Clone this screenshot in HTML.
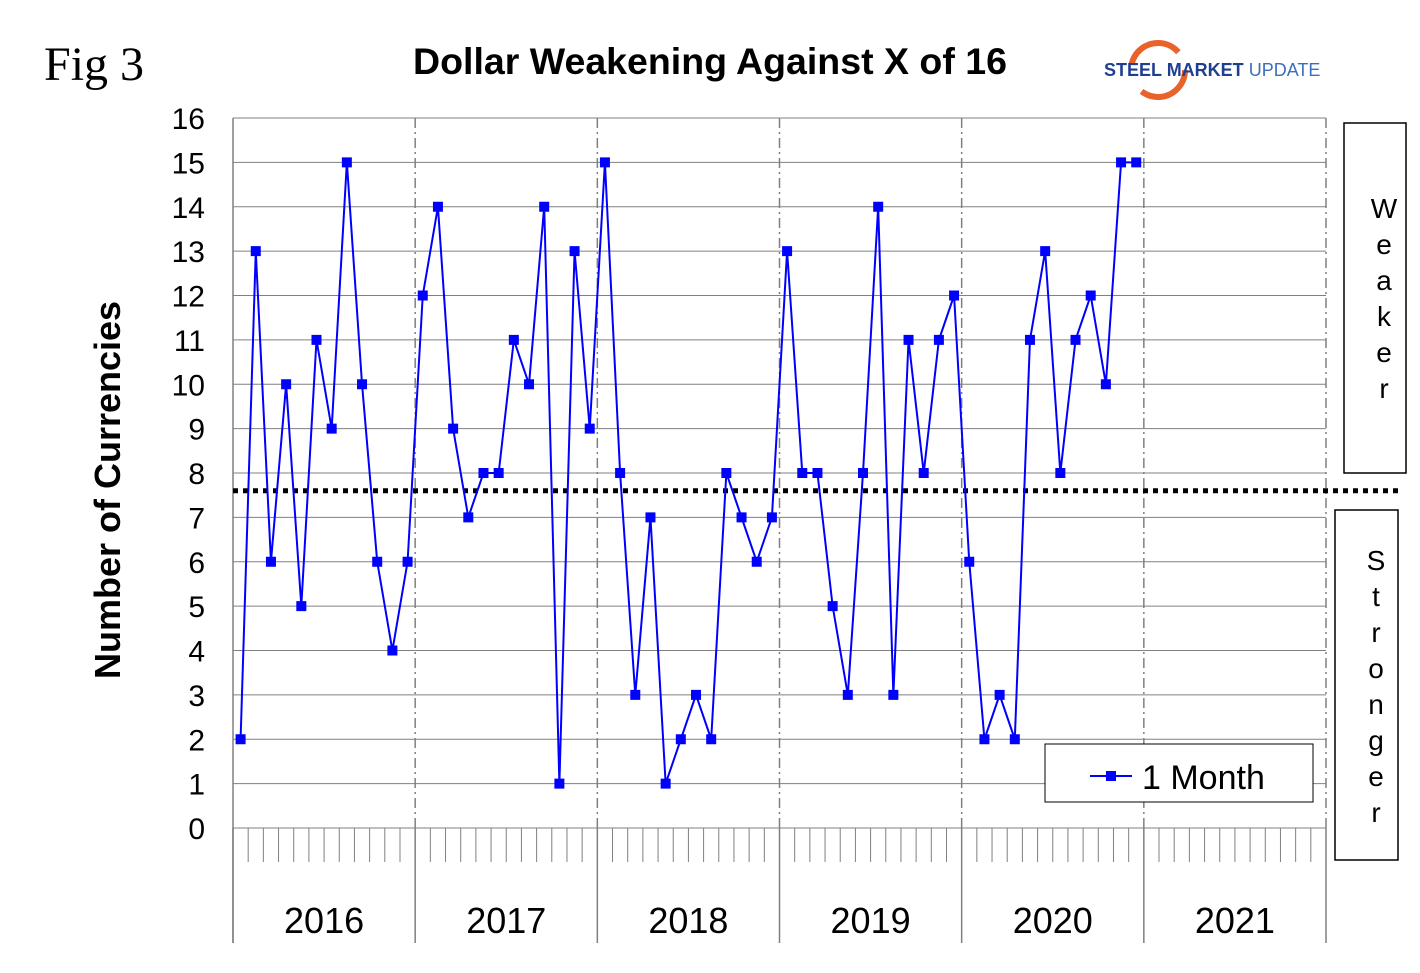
<!DOCTYPE html>
<html><head><meta charset="utf-8"><style>
body{margin:0;background:#fff;width:1420px;height:973px;overflow:hidden;font-family:"Liberation Sans",sans-serif}
svg{display:block}
</style></head><body>
<svg width="1420" height="973" id="c">
<text x="44" y="80" font-family="Liberation Serif" font-size="48">Fig 3</text>
<text x="710" y="74" text-anchor="middle" font-size="37.5" font-weight="bold">Dollar Weakening Against X of 16</text>
<g>
<circle cx="1158" cy="70" r="27" fill="none" stroke="#e8622a" stroke-width="6" stroke-dasharray="60 30"/>
<text x="1104" y="76" font-size="18" font-weight="bold" fill="#1f3f8f">STEEL <tspan fill="#1f3f8f">MARKET</tspan> <tspan font-weight="normal" fill="#3a6fc0">UPDATE</tspan></text>
</g>
<text transform="translate(120,490) rotate(-90)" text-anchor="middle" font-size="36" font-weight="bold">Number of Currencies</text>
<g id="grid"></g><g id="axes"></g><g id="series"></g>
<g>
<rect x="1344" y="123" width="62" height="350" fill="none" stroke="#000" stroke-width="1.5"/>
<text font-size="28" text-anchor="middle"><tspan x="1384" y="218">W</tspan><tspan x="1384" y="254">e</tspan><tspan x="1384" y="290">a</tspan><tspan x="1384" y="326">k</tspan><tspan x="1384" y="362">e</tspan><tspan x="1384" y="398">r</tspan></text>
</g>
<g>
<rect x="1335" y="510" width="63" height="350" fill="none" stroke="#000" stroke-width="1.5"/>
<text font-size="28" text-anchor="middle"><tspan x="1376" y="570">S</tspan><tspan x="1376" y="606">t</tspan><tspan x="1376" y="642">r</tspan><tspan x="1376" y="678">o</tspan><tspan x="1376" y="714">n</tspan><tspan x="1376" y="750">g</tspan><tspan x="1376" y="786">e</tspan><tspan x="1376" y="822">r</tspan></text>
</g>
<g>
<rect x="1045" y="744" width="268" height="58" fill="#fff" stroke="#000" stroke-width="1"/>
<line x1="1090" y1="776" x2="1132" y2="776" stroke="#0000ff" stroke-width="2"/>
<rect x="1106" y="771" width="10" height="10" fill="#0000ff"/>
<text x="1142" y="789" font-size="34">1 Month</text>
</g>
</svg>
<script>
const years=["2016","2017","2018","2019","2020","2021"];
const yTicks=[0,1,2,3,4,5,6,7,8,9,10,11,12,13,14,15,16];
const values=[2,13,6,10,5,11,9,15,10,6,4,6,
12,14,9,7,8,8,11,10,14,1,13,9,
15,8,3,7,1,2,3,2,8,7,6,7,
13,8,8,5,3,8,14,3,11,8,11,12,
6,2,3,2,11,13,8,11,12,10,15,15];
const threshold=7.6;
const X0=233,X1=1326,Y0=828,Y1=118,NM=72;
const mw=(X1-X0)/NM;
const xm=i=>X0+mw*(i+0.5);
const y=v=>Y0-(v/16)*(Y0-Y1);
const NS="http://www.w3.org/2000/svg";
function mk(t,a,p){const e=document.createElementNS(NS,t);for(const k in a)e.setAttribute(k,a[k]);p.appendChild(e);return e;}
const g=document.getElementById('grid'),ax=document.getElementById('axes'),s=document.getElementById('series');
yTicks.forEach(v=>{
 const l=mk('line',{x1:X0,x2:X1,y1:y(v),y2:y(v),stroke:'#808080','stroke-width':1},g);
 
 
 const t=mk('text',{x:205,y:y(v)+11,'text-anchor':'end','font-size':30},ax);
 t.textContent=v;
 
 
});
mk('line',{x1:X0,x2:X0,y1:Y1,y2:943,stroke:'#808080','stroke-width':1.5},ax);
for(let i=0;i<=NM;i++){
 const x=X0+mw*i;
 if(i%12==0){
  if(i>0)mk('line',{x1:x,x2:x,y1:Y1,y2:Y0,stroke:'#808080','stroke-width':1.5,'stroke-dasharray':'10 4 2 4'},ax);
  mk('line',{x1:x,x2:x,y1:Y0,y2:943,stroke:'#808080','stroke-width':1.5},ax);
 } else mk('line',{x1:x,x2:x,y1:Y0,y2:862,stroke:'#808080','stroke-width':1},ax);
}
years.forEach((yr,i)=>{
 const t=mk('text',{x:X0+mw*(i*12+6),y:933,'text-anchor':'middle','font-size':36},ax);
 t.textContent=yr;
 
 
});
const th=mk('line',{x1:X0,x2:1400,y1:y(threshold),y2:y(threshold),stroke:'#000','stroke-width':5,'stroke-dasharray':'5 5'},s);


const pl=mk('polyline',{points:values.map((v,i)=>xm(i)+','+y(v)).join(' '),fill:'none',stroke:'#0000ff','stroke-width':2},s);


values.forEach((v,i)=>{
 const r=mk('rect',{x:xm(i)-5,y:y(v)-5,width:10,height:10,fill:'#0000ff'},s);
 
 
});
</script>
</body></html>
